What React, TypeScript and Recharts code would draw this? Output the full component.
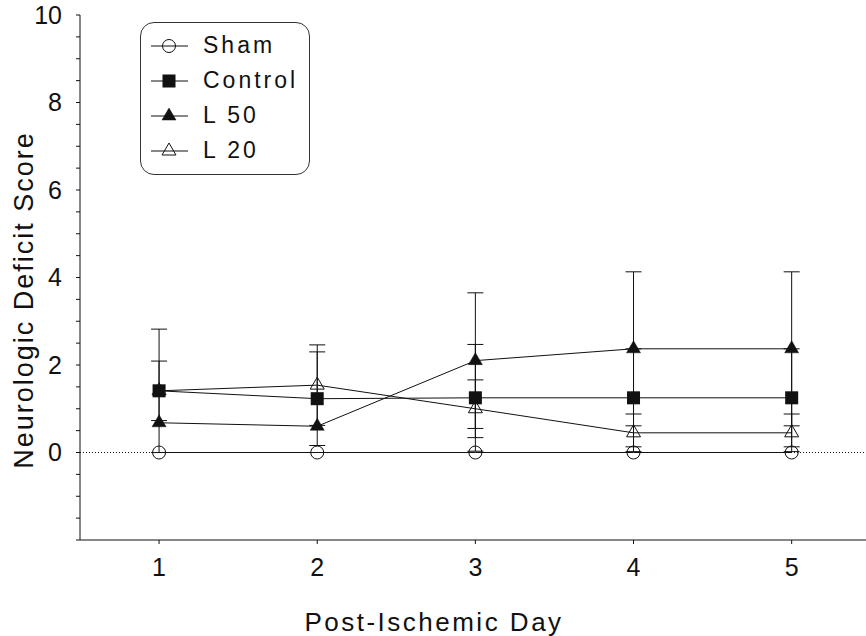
import React from 'react';
import { LineChart, Line, XAxis, YAxis, ErrorBar, ReferenceLine, Legend, Label } from 'recharts';

const days = [1, 2, 3, 4, 5];
const sham = [0, 0, 0, 0, 0];
const control = [1.41, 1.23, 1.25, 1.25, 1.25];
const controlSD = [1.41, 1.07, 1.22, 1.12, 1.12];
const l50 = [0.68, 0.6, 2.1, 2.37, 2.37];
const l50SD = [0, 0, 1.55, 1.76, 1.76];
const l20 = [1.41, 1.54, 1.0, 0.45, 0.45];
const l20SD = [0.68, 0.92, 0.66, 0.43, 0.43];

const xTicks = [1, 2, 3, 4, 5];
const yTicks = [-2, -1.5, -1, -0.5, 0, 0.5, 1, 1.5, 2, 2.5, 3, 3.5, 4, 4.5, 5, 5.5, 6, 6.5, 7, 7.5, 8, 8.5, 9, 9.5, 10];
const yLabeled = [0, 2, 4, 6, 8, 10];
const legendItems = [
  { name: 'Sham', kind: 'circle' },
  { name: 'Control', kind: 'square' },
  { name: 'L 50', kind: 'triFilled' },
  { name: 'L 20', kind: 'triOpen' },
];

const data = days.map((d, i) => ({
  day: d,
  sham: sham[i],
  control: control[i],
  controlSD: controlSD[i],
  l50: l50[i],
  l50SD: l50SD[i],
  l20: l20[i],
  l20SD: l20SD[i],
}));

const FONT = '"Liberation Sans", Arial, Helvetica, sans-serif';
const INK = '#111';

function Marker({ kind, cx, cy }: { kind: string; cx: number; cy: number }) {
  if (kind === 'circle') {
    return <circle cx={cx} cy={cy} r={6.5} fill="none" stroke={INK} strokeWidth={1} />;
  }
  if (kind === 'square') {
    return <rect x={cx - 6.5} y={cy - 6.5} width={13} height={13} fill={INK} />;
  }
  const w = 14;
  const h = 12;
  const pts = `${cx},${cy - (2 * h) / 3} ${cx + w / 2},${cy + h / 3} ${cx - w / 2},${cy + h / 3}`;
  if (kind === 'triFilled') {
    return <polygon points={pts} fill={INK} stroke={INK} strokeWidth={0.5} />;
  }
  return <polygon points={pts} fill="none" stroke={INK} strokeWidth={1} />;
}

const makeDot = (kind: string) => (p: any) => (
  <g key={`${kind}-${p.index}`}>
    {p.cx != null && p.cy != null ? <Marker kind={kind} cx={p.cx} cy={p.cy} /> : null}
  </g>
);

function LegendBox() {
  return (
    <div
      style={{
        boxSizing: 'border-box',
        width: 170,
        height: 153,
        border: '1px solid #333',
        borderRadius: 14,
        paddingTop: 5,
        background: '#fff',
        fontFamily: FONT,
      }}
    >
      {legendItems.map((it) => (
        <div key={it.name} style={{ display: 'flex', alignItems: 'center', height: 35 }}>
          <svg width={58} height={20} style={{ marginLeft: 4, display: 'block' }}>
            <line x1={6} y1={10} x2={43} y2={10} stroke={INK} strokeWidth={1} />
            <Marker kind={it.kind} cx={24} cy={10} />
          </svg>
          <span style={{ fontSize: 23, letterSpacing: 3, color: INK, lineHeight: '35px' }}>{it.name}</span>
        </div>
      ))}
    </div>
  );
}

export default function App() {
  return (
    <div style={{ position: 'absolute', left: 0, top: 0, width: 866, height: 636, overflow: 'hidden', background: '#fff' }}>
      <LineChart
        width={866}
        height={636}
        data={data}
        margin={{ top: 15, right: 0, bottom: 0, left: 0 }}
        style={{ fontFamily: FONT }}
      >
        <XAxis
          dataKey="day"
          type="number"
          domain={[0.5, 5.47]}
          ticks={xTicks}
          interval={0}
          height={96}
          tickSize={4}
          tickMargin={14}
          stroke={INK}
          tick={{ fontSize: 25, fill: INK, fontFamily: FONT }}
          allowDataOverflow
        >
          <Label
            content={() => (
              <text x={434} y={631} textAnchor="middle" fontSize={26} letterSpacing={2.5} fill={INK} fontFamily={FONT}>
                Post-Ischemic Day
              </text>
            )}
          />
        </XAxis>
        <YAxis
          type="number"
          domain={[-2, 10]}
          ticks={yTicks}
          interval={0}
          width={80}
          tickSize={4}
          tickMargin={14}
          stroke={INK}
          tick={{ fontSize: 25, fill: INK, fontFamily: FONT }}
          tickFormatter={(v: number) => (yLabeled.includes(v) ? String(v) : '')}
          allowDataOverflow
        >
          <Label
            content={() => (
              <text
                x={0}
                y={0}
                transform="translate(33,300) rotate(-90)"
                textAnchor="middle"
                fontSize={27}
                letterSpacing={2}
                fill={INK}
                fontFamily={FONT}
              >
                Neurologic Deficit Score
              </text>
            )}
          />
        </YAxis>
        <ReferenceLine y={0} stroke={INK} strokeWidth={1} strokeDasharray="1 2" />
        <Line
          dataKey="sham"
          name="Sham"
          stroke={INK}
          strokeWidth={1}
          isAnimationActive={false}
          dot={makeDot('circle')}
          activeDot={false}
        />
        <Line
          dataKey="l20"
          name="L 20"
          stroke={INK}
          strokeWidth={1}
          isAnimationActive={false}
          dot={makeDot('triOpen')}
          activeDot={false}
        >
          <ErrorBar dataKey="l20SD" width={8} stroke={INK} strokeWidth={1} direction="y" />
        </Line>
        <Line
          dataKey="l50"
          name="L 50"
          stroke={INK}
          strokeWidth={1}
          isAnimationActive={false}
          dot={makeDot('triFilled')}
          activeDot={false}
        >
          <ErrorBar dataKey="l50SD" width={8} stroke={INK} strokeWidth={1} direction="y" />
        </Line>
        <Line
          dataKey="control"
          name="Control"
          stroke={INK}
          strokeWidth={1}
          isAnimationActive={false}
          dot={makeDot('square')}
          activeDot={false}
        >
          <ErrorBar dataKey="controlSD" width={8} stroke={INK} strokeWidth={1} direction="y" />
        </Line>
        <Legend
          layout="vertical"
          align="center"
          verticalAlign="middle"
          wrapperStyle={{ position: 'absolute', left: 140, top: 22, width: 170, height: 153, margin: 0, padding: 0 }}
          content={() => <LegendBox />}
        />
      </LineChart>
    </div>
  );
}
